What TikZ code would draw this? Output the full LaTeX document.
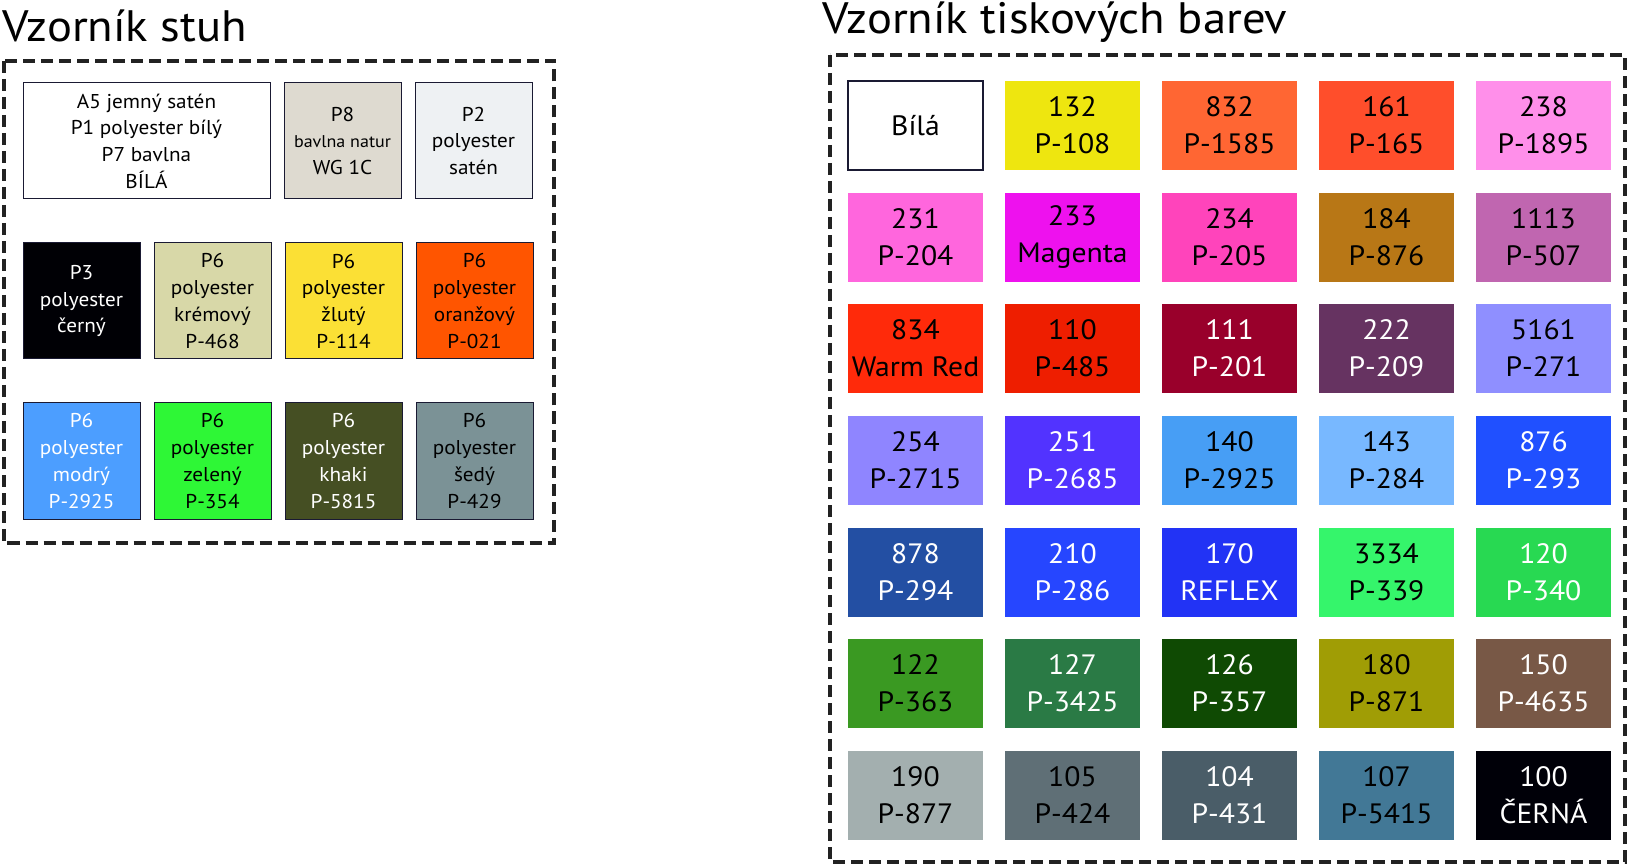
\documentclass[tikz,border=0pt]{standalone}
\usepackage{fontspec}
\setmainfont{PT Sans}[FakeStretch=1.06]
\usepackage{tikz}
\usetikzlibrary{positioning}

% colours of the ribbons
\definecolor{framecol}{HTML}{222222}
\definecolor{lbord}{HTML}{1A1A33}
\definecolor{natur}{HTML}{DEDAD0}
\definecolor{saten}{HTML}{EEF1F3}
\definecolor{cerny}{HTML}{000005}
\definecolor{kremovy}{HTML}{D8D8A8}
\definecolor{zluty}{HTML}{FBE035}
\definecolor{oranzovy}{HTML}{FF5500}
\definecolor{modry}{HTML}{4C9EFF}
\definecolor{zeleny}{HTML}{2EF736}
\definecolor{khaki}{HTML}{454F23}
\definecolor{sedy}{HTML}{7B9296}

% colours of the print inks
\definecolor{c132}{HTML}{EEE60F}
\definecolor{c832}{HTML}{FF6633}
\definecolor{c161}{HTML}{FF4E2B}
\definecolor{c238}{HTML}{FF8FEA}
\definecolor{c231}{HTML}{FF66DD}
\definecolor{c233}{HTML}{EE11EE}
\definecolor{c234}{HTML}{FF44BB}
\definecolor{c184}{HTML}{B87716}
\definecolor{c1113}{HTML}{C066B0}
\definecolor{c834}{HTML}{FF2A0A}
\definecolor{c110}{HTML}{EE1E00}
\definecolor{c111}{HTML}{99002B}
\definecolor{c222}{HTML}{663361}
\definecolor{c5161}{HTML}{8F8FFF}
\definecolor{c254}{HTML}{8F85FF}
\definecolor{c251}{HTML}{5233FF}
\definecolor{c140}{HTML}{479EF5}
\definecolor{c143}{HTML}{78B8FF}
\definecolor{c876}{HTML}{2050FF}
\definecolor{c878}{HTML}{234FA3}
\definecolor{c210}{HTML}{2646FF}
\definecolor{c170}{HTML}{2233F5}
\definecolor{c3334}{HTML}{35F56B}
\definecolor{c120}{HTML}{28D952}
\definecolor{c122}{HTML}{3A9922}
\definecolor{c127}{HTML}{2A7A45}
\definecolor{c126}{HTML}{0F4A03}
\definecolor{c180}{HTML}{A09D05}
\definecolor{c150}{HTML}{785846}
\definecolor{c190}{HTML}{A3AFAF}
\definecolor{c105}{HTML}{5F6F76}
\definecolor{c104}{HTML}{4A5D68}
\definecolor{c107}{HTML}{427896}
\definecolor{c100}{HTML}{000008}

\begin{document}
\begin{tikzpicture}[x=1pt, y=-1pt,
	lcell/.style={draw=lbord, line width=1pt, outer sep=0pt, minimum width=117pt, minimum height=116pt, inner sep=0pt, align=center, font=\fontsize{20}{26.7}\selectfont},
	rcell/.style={outer sep=0pt, minimum width=135pt, minimum height=89pt, inner sep=0pt, align=center, font=\fontsize{28}{37}\selectfont},
	rdark/.style={rcell, text=white},
	frame/.style={draw=framecol, line width=4pt, dash pattern=on 12pt off 6pt},
	title/.style={anchor=base west, inner sep=0pt, font=\fontsize{44}{50}\selectfont}]

	\useasboundingbox (0,0) rectangle (1628,866);

	% Titles
	\node [title] (ltitle) at (2,42)  {Vzorník stuh};
	\node [title] (rtitle) at (822,34) {Vzorník tiskových barev};

	% Frames
	\draw [frame] (3.5,61) rectangle (554,543);
	\draw [frame] (830,55) rectangle (1625,862);

	% Ribbons, first row
	\node [lcell, fill=white, minimum width=247pt, anchor=north west] (bila) at (23,83) {A5 jemný satén\\P1 polyester bílý\\P7 bavlna\\BÍLÁ};
	\node [lcell, fill=natur]  (natur) [right=14pt of bila]  {P8\\{\fontsize{17}{24}\selectfont bavlna natur}\\WG 1C};
	\node [lcell, fill=saten]  (saten) [right=14pt of natur] {P2\\polyester\\satén};

	% Ribbons, second row
	\node [lcell, fill=cerny, text=white, anchor=north west] (cerny) at (23,243) {P3\\polyester\\černý};
	\node [lcell, fill=kremovy]  (kremovy)  [right=14pt of cerny]   {P6\\polyester\\krémový\\P-468};
	\node [lcell, fill=zluty]    (zluty)    [right=14pt of kremovy] {P6\\polyester\\žlutý\\P-114};
	\node [lcell, fill=oranzovy] (oranzovy) [right=14pt of zluty]   {P6\\polyester\\oranžový\\P-021};

	% Ribbons, third row
	\node [lcell, fill=modry, text=white, anchor=north west] (modry) at (23,403) {P6\\polyester\\modrý\\P-2925};
	\node [lcell, fill=zeleny]             (zeleny) [right=14pt of modry]  {P6\\polyester\\zelený\\P-354};
	\node [lcell, fill=khaki, text=white]  (khaki)  [right=14pt of zeleny] {P6\\polyester\\khaki\\P-5815};
	\node [lcell, fill=sedy]               (sedy)   [right=14pt of khaki]  {P6\\polyester\\šedý\\P-429};

	% Inks, first row
	\node [rcell, draw=lbord, line width=1.5pt, fill=white, anchor=north west] (nbila) at (848,81) {Bílá};
	\node [rcell, fill=c132]  (n132)  [right=22pt of nbila] {132\\P-108};
	\node [rcell, fill=c832]  (n832)  [right=22pt of n132]  {832\\P-1585};
	\node [rcell, fill=c161]  (n161)  [right=22pt of n832]  {161\\P-165};
	\node [rcell, fill=c238]  (n238)  [right=22pt of n161]  {238\\P-1895};

	% Inks, second row
	\node [rcell, fill=c231, anchor=north west] (n231) at (848,193) {231\\P-204};
	\node [rcell, fill=c233]  (n233)  [right=22pt of n231]  {233\\Magenta};
	\node [rcell, fill=c234]  (n234)  [right=22pt of n233]  {234\\P-205};
	\node [rcell, fill=c184]  (n184)  [right=22pt of n234]  {184\\P-876};
	\node [rcell, fill=c1113] (n1113) [right=22pt of n184]  {1113\\P-507};

	% Inks, third row
	\node [rcell, fill=c834, anchor=north west] (n834) at (848,304) {834\\Warm Red};
	\node [rcell, fill=c110]  (n110)  [right=22pt of n834]  {110\\P-485};
	\node [rdark, fill=c111]  (n111)  [right=22pt of n110]  {111\\P-201};
	\node [rdark, fill=c222]  (n222)  [right=22pt of n111]  {222\\P-209};
	\node [rcell, fill=c5161] (n5161) [right=22pt of n222]  {5161\\P-271};

	% Inks, fourth row
	\node [rcell, fill=c254, anchor=north west] (n254) at (848,416) {254\\P-2715};
	\node [rdark, fill=c251]  (n251)  [right=22pt of n254]  {251\\P-2685};
	\node [rcell, fill=c140]  (n140)  [right=22pt of n251]  {140\\P-2925};
	\node [rcell, fill=c143]  (n143)  [right=22pt of n140]  {143\\P-284};
	\node [rdark, fill=c876]  (n876)  [right=22pt of n143]  {876\\P-293};

	% Inks, fifth row
	\node [rdark, fill=c878, anchor=north west] (n878) at (848,528) {878\\P-294};
	\node [rdark, fill=c210]  (n210)  [right=22pt of n878]  {210\\P-286};
	\node [rdark, fill=c170]  (n170)  [right=22pt of n210]  {170\\REFLEX};
	\node [rcell, fill=c3334] (n3334) [right=22pt of n170]  {3334\\P-339};
	\node [rdark, fill=c120]  (n120)  [right=22pt of n3334] {120\\P-340};

	% Inks, sixth row
	\node [rcell, fill=c122, anchor=north west] (n122) at (848,639) {122\\P-363};
	\node [rdark, fill=c127]  (n127)  [right=22pt of n122]  {127\\P-3425};
	\node [rdark, fill=c126]  (n126)  [right=22pt of n127]  {126\\P-357};
	\node [rcell, fill=c180]  (n180)  [right=22pt of n126]  {180\\P-871};
	\node [rdark, fill=c150]  (n150)  [right=22pt of n180]  {150\\P-4635};

	% Inks, seventh row
	\node [rcell, fill=c190, anchor=north west] (n190) at (848,751) {190\\P-877};
	\node [rcell, fill=c105]  (n105)  [right=22pt of n190]  {105\\P-424};
	\node [rdark, fill=c104]  (n104)  [right=22pt of n105]  {104\\P-431};
	\node [rcell, fill=c107]  (n107)  [right=22pt of n104]  {107\\P-5415};
	\node [rdark, fill=c100]  (n100)  [right=22pt of n107]  {100\\ČERNÁ};

\end{tikzpicture}
\end{document}
